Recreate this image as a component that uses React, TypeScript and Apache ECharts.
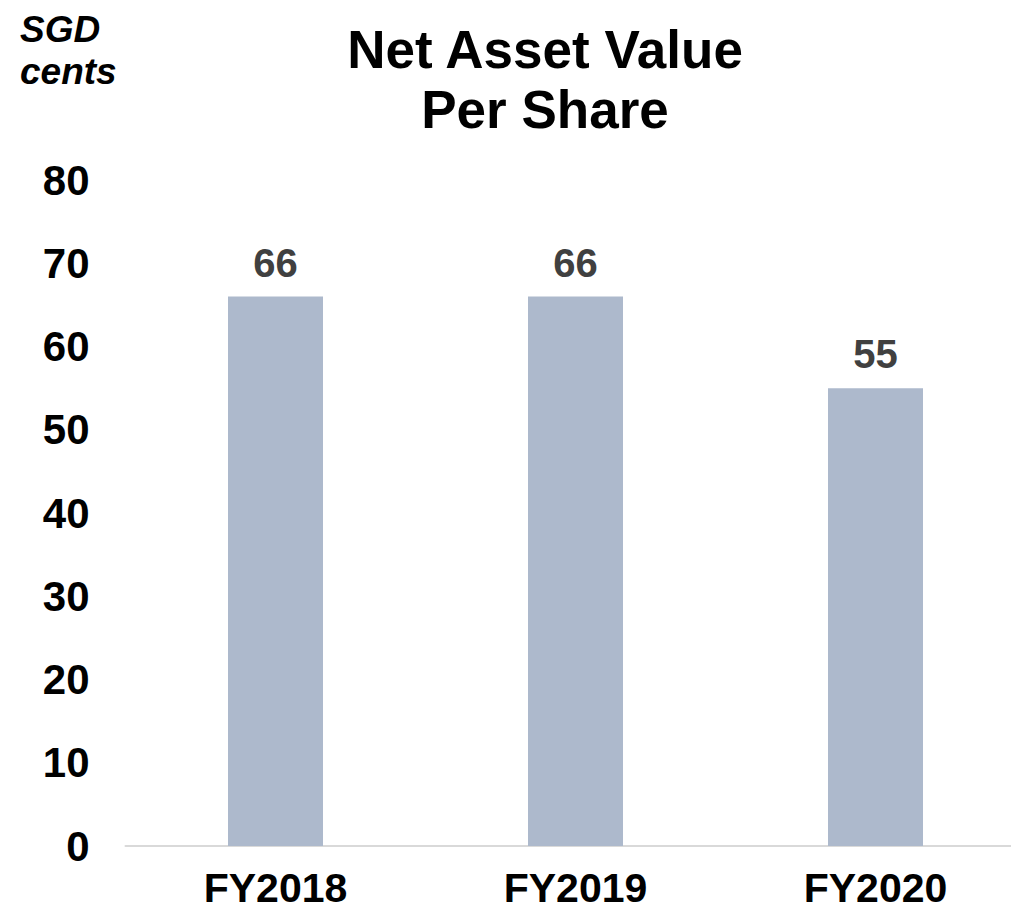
import React, { useEffect, useRef } from "react";
import * as echarts from "echarts";

const categories = ["FY2018", "FY2019", "FY2020"];
const navValues = [66, 66, 55];
const yTicks = [0, 10, 20, 30, 40, 50, 60, 70, 80];

const FONT = "'Liberation Sans', Arial, sans-serif";

export default function App() {
  const ref = useRef<HTMLDivElement>(null);
  useEffect(() => {
    if (!ref.current) return;
    const chart = echarts.init(ref.current, undefined, { renderer: "svg" });
    chart.setOption({
      animation: false,
      backgroundColor: "#ffffff",
      title: {
        text: "Net Asset Value\nPer Share",
        left: 540,
        top: 14,
        textAlign: "center",
        textStyle: {
          fontFamily: FONT,
          fontWeight: "bold",
          fontSize: 53,
          lineHeight: 60,
          color: "#000000",
        },
      },
      graphic: [
        {
          type: "text",
          left: 20,
          top: 8,
          style: {
            text: "SGD\ncents",
            fontFamily: FONT,
            fontWeight: "bold",
            fontStyle: "italic",
            fontSize: 37,
            lineHeight: 42,
            fill: "#000000",
            textAlign: "left",
          },
        },
      ],
      grid: {
        left: 125.5,
        right: 14.5,
        top: 180,
        bottom: 66,
        containLabel: false,
        outerBoundsMode: "none",
      },
      xAxis: {
        type: "category",
        data: categories,
        axisLine: { lineStyle: { color: "#d9d9d9", width: 2 } },
        axisTick: { show: false },
        axisLabel: {
          fontFamily: FONT,
          fontWeight: "bold",
          fontSize: 41,
          lineHeight: 41,
          color: "#000000",
          margin: 21,
        },
      },
      yAxis: {
        type: "value",
        min: yTicks[0],
        max: yTicks[yTicks.length - 1],
        interval: 10,
        axisLine: { show: false },
        axisTick: { show: false },
        splitLine: { show: false },
        axisLabel: {
          fontFamily: FONT,
          fontWeight: "bold",
          fontSize: 42,
          color: "#000000",
          margin: 36,
        },
      },
      series: [
        {
          type: "bar",
          data: navValues,
          barWidth: 95,
          itemStyle: { color: "#adb9cc" },
          label: {
            show: true,
            position: "top",
            distance: 14,
            fontFamily: FONT,
            fontWeight: "bold",
            fontSize: 40,
            color: "#404040",
          },
        },
      ],
    });
    return () => chart.dispose();
  }, []);
  return (
    <div
      style={{
        position: "fixed",
        left: 0,
        top: 0,
        width: 1011,
        height: 912,
        overflow: "hidden",
      }}
    >
      <div ref={ref} style={{ width: 1040, height: 912 }} />
    </div>
  );
}
